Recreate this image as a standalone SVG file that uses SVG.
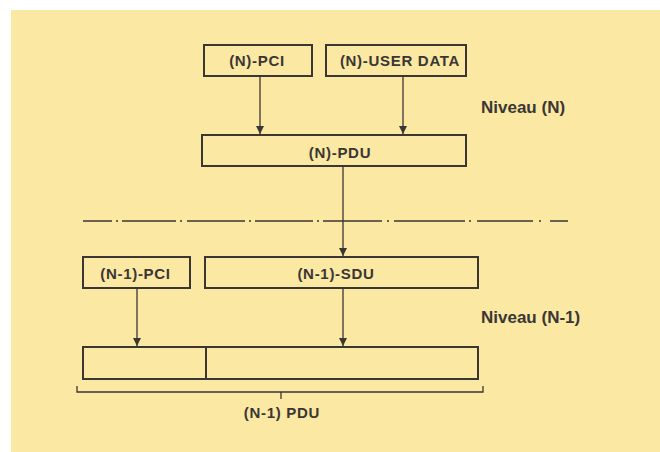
<svg xmlns="http://www.w3.org/2000/svg" width="660" height="452" viewBox="0 0 660 452">
<defs>
<marker id="ah" viewBox="0 0 8 12" refX="8" refY="6" markerWidth="8" markerHeight="12" markerUnits="userSpaceOnUse" orient="auto">
<path d="M0,2 L8,6 L0,10 Z" fill="#3a3633"/>
</marker>
<style>
.box{fill:none;stroke:#3a3633;stroke-width:2}
.lbl{font-family:"Liberation Sans",Arial,sans-serif;font-weight:bold;font-size:15px;letter-spacing:0.7px;fill:#3a3633;text-anchor:middle}
.niv{font-family:"Liberation Sans",Arial,sans-serif;font-weight:bold;font-size:17px;fill:#3a3633}
.arr{stroke:#3a3633;stroke-width:1.3;fill:none;marker-end:url(#ah)}
.ln{stroke:#3a3633;stroke-width:1.3;fill:none}
</style>
</defs>
<rect x="0" y="0" width="660" height="452" fill="#ffffff"/>
<rect x="11" y="10" width="649" height="442" fill="#fbe8a3"/>

<g id="n-pci">
<rect class="box" x="204" y="45" width="108" height="31"/>
<text class="lbl" x="257" y="66">(N)-PCI</text>
</g>
<g id="n-userdata">
<rect class="box" x="326" y="45" width="140" height="31"/>
<text class="lbl" x="400" y="66">(N)-USER DATA</text>
</g>
<g id="n-pdu">
<rect class="box" x="202" y="135" width="264" height="31"/>
<text class="lbl" x="340" y="158">(N)-PDU</text>
</g>
<g id="n1-pci">
<rect class="box" x="83" y="257" width="107" height="31"/>
<text class="lbl" x="135.5" y="279">(N-1)-PCI</text>
</g>
<g id="n1-sdu">
<rect class="box" x="205" y="257" width="273" height="31"/>
<text class="lbl" x="336" y="279">(N-1)-SDU</text>
</g>
<g id="n1-pdu">
<rect class="box" x="83" y="347" width="395" height="32"/>
<line class="box" x1="206" y1="347" x2="206" y2="379"/>
</g>
<g id="bracket">
<path class="ln" d="M77,386 L77,392 L483,392 L483,386 M281,392 L281,399"/>
<text class="lbl" x="282" y="418">(N-1) PDU</text>
</g>
<g id="levels">
<text class="niv" x="481" y="113">Niveau (N)</text>
<text class="niv" x="481" y="323">Niveau (N-1)</text>
</g>
<g id="separator">
<line class="ln" x1="83" y1="221" x2="568" y2="221" stroke-dasharray="29 4 2 4 54 4 2 5 58 4 2 4 58 4 2 4 59 5 2 5 71 4 2 6 56 6 2 9 18"/>
</g>
<g id="connectors">
<line class="arr" x1="260" y1="76" x2="260" y2="134"/>
<line class="arr" x1="403" y1="76" x2="403" y2="134"/>
<line class="arr" x1="343" y1="166" x2="343" y2="256"/>
<line class="arr" x1="137" y1="288" x2="137" y2="346"/>
<line class="arr" x1="343" y1="288" x2="343" y2="346"/>
</g>
</svg>
